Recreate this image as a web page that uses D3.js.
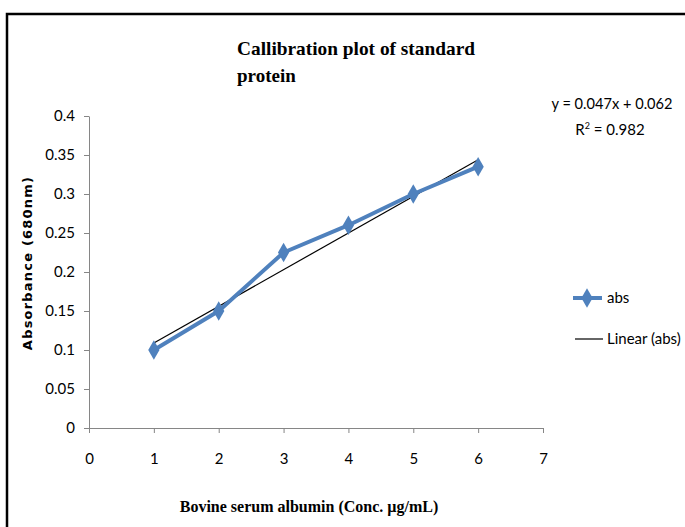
<!DOCTYPE html>
<html><head><meta charset="utf-8">
<script src="https://cdn.jsdelivr.net/npm/d3@7"></script>
<style>body{margin:0;background:#fff}</style>
</head><body>
<svg id="c" width="685" height="527"></svg>
<script>
const concentrations = [1, 2, 3, 4, 5, 6];
const absValues = [0.1, 0.15, 0.225, 0.26, 0.3, 0.335];
const xTicks = [0, 1, 2, 3, 4, 5, 6, 7];
const yTicks = [0, 0.05, 0.1, 0.15, 0.2, 0.25, 0.3, 0.35, 0.4];
const trendSlope = 0.047, trendIntercept = 0.062;
const titleLines = ["Callibration plot of standard", "protein"];
const eqLabel = "y = 0.047x + 0.062";

const svg = d3.select("#c");
const narrow = "Lato,'Open Sans',sans-serif";

// frame
svg.append("rect").attr("x", 7).attr("y", 14).attr("width", 700).attr("height", 540)
  .attr("fill", "none").attr("stroke", "#000").attr("stroke-width", 2.5);

const x = d3.scaleLinear().domain([0, 7]).range([89, 543]);
const y = d3.scaleLinear().domain([0, 0.4]).range([428, 116]);

const xAxis = svg.append("g").attr("transform", "translate(0,428)")
  .call(d3.axisBottom(x).tickValues(xTicks).tickSize(5).tickSizeOuter(0).tickPadding(20).tickFormat(d3.format("d")));
const yAxis = svg.append("g").attr("transform", "translate(89,0)")
  .call(d3.axisLeft(y).tickValues(yTicks).tickSize(5).tickSizeOuter(0).tickPadding(9).tickFormat(d => String(d)));
[xAxis, yAxis].forEach(g => {
  g.selectAll("path,line").attr("stroke", "#868686");
  g.selectAll("text").attr("fill", "#000").style("font-family", narrow).style("font-size", "15px");
});

// trendline
const trendX = d3.extent(concentrations);
svg.append("line")
  .attr("x1", x(trendX[0])).attr("y1", y(trendSlope * trendX[0] + trendIntercept))
  .attr("x2", x(trendX[1])).attr("y2", y(trendSlope * trendX[1] + trendIntercept))
  .attr("stroke", "#000").attr("stroke-width", 1.2);

const pts = concentrations.map((c, i) => [c, absValues[i]]);
const blue = "#4F81BD";
svg.append("path").datum(pts)
  .attr("d", d3.line().x(d => x(d[0])).y(d => y(d[1])))
  .attr("fill", "none").attr("stroke", blue).attr("stroke-width", 4).attr("stroke-linejoin", "round");
const diamond = d3.symbol().type(d3.symbolDiamond).size(110);
svg.selectAll(".m").data(pts).join("path")
  .attr("transform", d => `translate(${x(d[0])},${y(d[1])})`)
  .attr("d", diamond).attr("fill", blue);

// title
svg.selectAll(".t").data(titleLines).join("text")
  .attr("x", 237).attr("y", (d, i) => 55 + i * 27)
  .style("font-family", "'Liberation Serif','Times New Roman',serif")
  .style("font-weight", "bold").style("font-size", "19px")
  .attr("textLength", (d, i) => i === 0 ? 238 : null)
  .attr("lengthAdjust", "spacingAndGlyphs")
  .text(d => d);

// equation
svg.append("text").attr("x", 612).attr("y", 109).attr("text-anchor", "middle")
  .style("font-family", narrow).style("font-size", "15px")
  .attr("textLength", 121).attr("lengthAdjust", "spacingAndGlyphs").text(eqLabel);
const r2 = svg.append("text").attr("x", 610).attr("y", 135).attr("text-anchor", "middle")
  .style("font-family", narrow).style("font-size", "15px");
r2.append("tspan").text("R");
r2.append("tspan").attr("dy", -6).style("font-size", "9px").text("2");
r2.append("tspan").attr("dy", 6).text(" = 0.982");

// axis titles
svg.append("text").attr("x", 309).attr("y", 512).attr("text-anchor", "middle")
  .style("font-family", "'Liberation Serif','Times New Roman',serif")
  .style("font-weight", "bold").style("font-size", "16px")
  .text("Bovine serum albumin (Conc. µg/mL)");
svg.append("text").attr("transform", "translate(32,263) rotate(-90)").attr("text-anchor", "middle")
  .style("font-family", "'DejaVu Sans',sans-serif").style("font-weight", "bold").style("font-size", "13px")
  .style("letter-spacing", "1.2px")
  .text("Absorbance (680nm)");

// legend
svg.append("line").attr("x1", 573).attr("x2", 602).attr("y1", 298).attr("y2", 298)
  .attr("stroke", blue).attr("stroke-width", 4);
svg.append("path").attr("transform", "translate(587,298)").attr("d", diamond).attr("fill", blue);
svg.append("text").attr("x", 607).attr("y", 303).style("font-family", narrow).style("font-size", "15px").text("abs");
svg.append("line").attr("x1", 575).attr("x2", 603).attr("y1", 339).attr("y2", 339)
  .attr("stroke", "#000").attr("stroke-width", 1.2);
svg.append("text").attr("x", 607).attr("y", 344).style("font-family", narrow).style("font-size", "15px").text("Linear (abs)");
</script>
</body></html>
